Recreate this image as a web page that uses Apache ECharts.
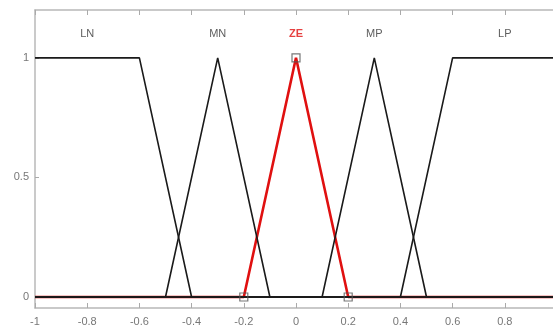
<!DOCTYPE html>
<html><head><meta charset="utf-8">
<script src="https://cdn.jsdelivr.net/npm/echarts@6/dist/echarts.min.js"></script>
<style>html,body{margin:0;padding:0;background:#fff;}#c{width:553px;height:333px;}</style>
</head><body><div id="c"></div>
<script>
// Membership functions (x breakpoints, membership values)
const lnX = [-1, -0.6, -0.4, 1];        const lnY = [1, 1, 0, 0];
const mnX = [-1, -0.5, -0.3, -0.1, 1];  const mnY = [0, 0, 1, 0, 0];
const zeX = [-1, -0.2, 0, 0.2, 1];      const zeY = [0, 0, 1, 0, 0];
const mpX = [-1, 0.1, 0.3, 0.5, 1];     const mpY = [0, 0, 1, 0, 0];
const lpX = [-1, 0.4, 0.6, 1];          const lpY = [0, 0, 1, 1];
const mfNames = ['LN', 'MN', 'ZE', 'MP', 'LP'];
const labelX = [-0.8, -0.3, 0, 0.3, 0.8];
const labelY = 1.1;
const markX = [-0.2, 0, 0.2];
const markY = [0, 1, 0];
const yTicks = [0, 0.5, 1];

const pairs = (xs, ys) => xs.map((x, i) => [x, ys[i]]);
const blackLine = (name, xs, ys) => ({
  type: 'line', name, data: pairs(xs, ys), symbol: 'none', z: 3,
  lineStyle: { color: '#1a1a1a', width: 1.6 }
});

const chart = echarts.init(document.getElementById('c'));
chart.setOption({
  animation: false,
  backgroundColor: '#fff',
  grid: { left: 35, top: 10, bottom: 25, width: 522, outerBoundsMode: 'none', containLabel: false },
  xAxis: [{
    type: 'value', min: -1, max: 1, interval: 0.2, position: 'bottom',
    axisLine: { show: true, onZero: false, lineStyle: { color: '#b8b8b8', width: 1.5 } },
    axisTick: { show: true, inside: true, length: 5, lineStyle: { color: '#aaa' } },
    axisLabel: { color: '#777', fontSize: 11, margin: 8, fontFamily: 'Liberation Sans, Arial',
      formatter: v => (Math.round(v * 10) / 10).toString() },
    splitLine: { show: false }
  }, {
    type: 'value', min: -1, max: 1, interval: 0.2, position: 'top', gridIndex: 0,
    axisLine: { show: true, onZero: false, lineStyle: { color: '#b8b8b8', width: 1.5 } },
    axisTick: { show: true, inside: true, length: 5, lineStyle: { color: '#aaa' } },
    axisLabel: { show: false }, splitLine: { show: false }
  }],
  yAxis: [{
    type: 'value', min: -0.046, max: 1.2,
    axisLine: { show: true, onZero: false, lineStyle: { color: '#b8b8b8', width: 1.5 } },
    axisTick: { show: true, inside: true, length: 4, customValues: yTicks, lineStyle: { color: '#aaa' } },
    axisLabel: { color: '#777', fontSize: 11, margin: 6, customValues: yTicks, fontFamily: 'Liberation Sans, Arial' },
    splitLine: { show: false }
  }],
  series: [
    { type: 'line', name: 'ZE', data: pairs(zeX, zeY), symbol: 'none', z: 2,
      lineStyle: { color: '#e01010', width: 2.6 } },
    blackLine('LN', lnX, lnY),
    blackLine('MN', mnX, mnY),
    blackLine('MP', mpX, mpY),
    blackLine('LP', lpX, lpY),
    { type: 'scatter', data: pairs(markX, markY), symbol: 'rect', symbolSize: 8, z: 5,
      itemStyle: { color: 'rgba(255,255,255,0)', borderColor: '#555', borderWidth: 1.2 } },
    { type: 'scatter', symbolSize: 0, z: 6,
      data: labelX.map((x, i) => ({ value: [x, labelY], name: mfNames[i],
        label: mfNames[i] === 'ZE' ? { color: '#e01010', fontWeight: 'bold' } : undefined })),
      label: { show: true, position: 'inside', formatter: p => p.name,
        fontSize: 11, fontFamily: 'Liberation Sans, Arial', color: '#333' }
    }
  ]
});
</script>
</body></html>
